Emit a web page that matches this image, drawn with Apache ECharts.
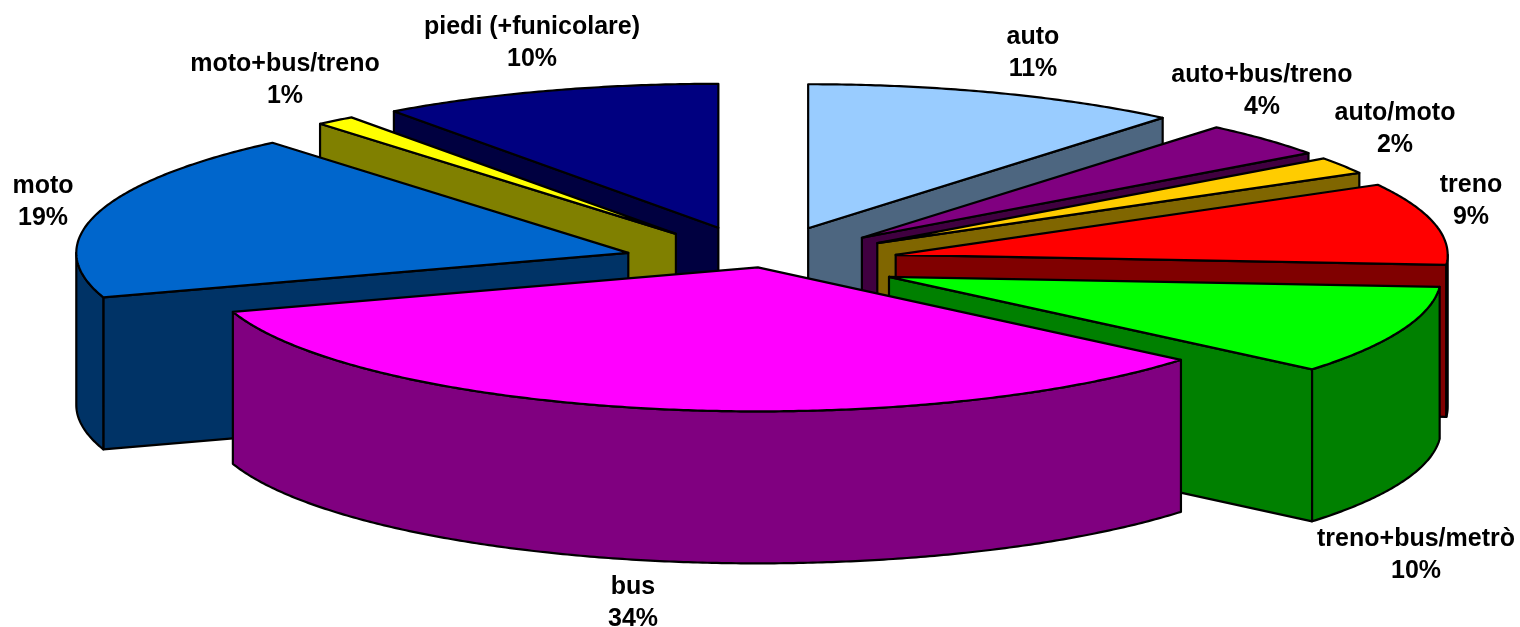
<!DOCTYPE html>
<html>
<head>
<meta charset="utf-8">
<style>html,body{margin:0;padding:0;background:#fff}#c{width:1520px;height:627px}</style>
<script src="https://cdn.jsdelivr.net/npm/echarts@6/dist/echarts.min.js"></script>
</head>
<body>
<div id="c"></div>
<script>
var categories = ['auto','auto+bus/treno','auto/moto','treno','treno+bus/metrò','bus','moto','moto+bus/treno','piedi (+funicolare)'];
var shares = [11.1,3.9,1.9,9.2,10.0,33.9,18.85,1.15,10.0];
var explosion = [1,1,1,1,1,0.12,1,1,1];
var colors = ['#99CCFF','#800080','#FFCC00','#FF0000','#00FF00','#FF00FF','#0066CC','#FFFF00','#000080'];
var sideColors = ['#4D6680','#400040','#806600','#800000','#008000','#800080','#003366','#808000','#000040'];

// layout of the tilted pie
var pie = {cx:761, cy:263, rx:552, ry:144, depth:152, ex:138, ey:37};
var labelCentres = [[1033,53],[1262,91],[1395,129],[1471,201],[1416,555],[633,603],[43,202],[285,80],[532,43]];

var total = shares.reduce(function(a,b){return a+b;},0);
var slices = [], acc = 0;
shares.forEach(function(v,i){
  var s = acc/total*360, e = (acc+v)/total*360; acc += v;
  slices.push({i:i,s:s,e:e,mid:(s+e)/2});
});
function rad(d){return d*Math.PI/180;}
var order = slices.slice().sort(function(a,b){return Math.cos(rad(b.mid))-Math.cos(rad(a.mid));});

function renderItem(params, api){
  var sl = order[api.value(0)];
  var i = sl.i;
  var k = explosion[i];
  var ax = pie.cx + k*pie.ex*Math.sin(rad(sl.mid));
  var ay = pie.cy - k*pie.ey*Math.cos(rad(sl.mid));
  function P(t,d){return [ax+pie.rx*Math.sin(rad(t)), ay-pie.ry*Math.cos(rad(t))+(d||0)];}
  var base = params.dataIndex*10;
  function poly(points,fill,z){
    return {type:'polygon',z2:base+z,shape:{points:points},
      style:{fill:fill,stroke:'#000',lineWidth:2.2,lineJoin:'round'}};
  }
  var ch = [];
  var apex=[ax,ay], apexD=[ax,ay+pie.depth];
  if(Math.sin(rad(sl.s))<-1e-6) ch.push(poly([apex,P(sl.s),P(sl.s,pie.depth),apexD],sideColors[i],1));
  if(Math.sin(rad(sl.e))>1e-6) ch.push(poly([apex,P(sl.e),P(sl.e,pie.depth),apexD],sideColors[i],1));
  var a=Math.max(sl.s,90), b=Math.min(sl.e,270);
  if(b>a){
    var top=[],bot=[],n=Math.max(2,Math.ceil((b-a)*2));
    for(var j=0;j<=n;j++){var t=a+(b-a)*j/n; top.push(P(t)); bot.unshift(P(t,pie.depth));}
    ch.push(poly(top.concat(bot),sideColors[i],2));
  }
  var cap=[apex],m=Math.max(2,Math.ceil((sl.e-sl.s)*2));
  for(var q=0;q<=m;q++){cap.push(P(sl.s+(sl.e-sl.s)*q/m));}
  ch.push(poly(cap,colors[i],3));
  var c=labelCentres[i];
  ch.push({type:'text',z2:1000,style:{
    text:categories[i]+'\n'+Math.round(shares[i]/total*100)+'%',
    x:c[0],y:c[1],align:'center',verticalAlign:'middle',textAlign:'center',textVerticalAlign:'middle',
    fontFamily:'"Liberation Sans",Arial,sans-serif',fontWeight:'bold',fontSize:25,lineHeight:32,fill:'#000'}});
  return {type:'group',children:ch};
}

var chart = echarts.init(document.getElementById('c'),null,{renderer:'canvas'});
chart.setOption({
  animation:false,
  backgroundColor:'#fff',
  series:[{type:'custom',coordinateSystem:'none',renderItem:renderItem,
    data:order.map(function(s,idx){return [idx,shares[s.i]];})}]
});
</script>
</body>
</html>
